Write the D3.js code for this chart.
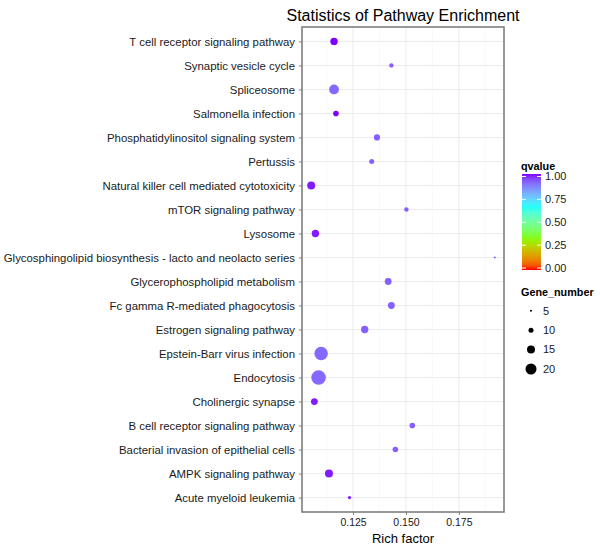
<!DOCTYPE html>
<html>
<head>
<meta charset="utf-8">
<script src="https://cdn.jsdelivr.net/npm/d3@7"></script>
<style>
  body { margin: 0; background: #fff; }
  text { font-family: "Liberation Sans", Arial, Helvetica, sans-serif; }
</style>
</head>
<body>
<script>
const pathways = [
    'T cell receptor signaling pathway',
    'Synaptic vesicle cycle',
    'Spliceosome',
    'Salmonella infection',
    'Phosphatidylinositol signaling system',
    'Pertussis',
    'Natural killer cell mediated cytotoxicity',
    'mTOR signaling pathway',
    'Lysosome',
    'Glycosphingolipid biosynthesis - lacto and neolacto series',
    'Glycerophospholipid metabolism',
    'Fc gamma R-mediated phagocytosis',
    'Estrogen signaling pathway',
    'Epstein-Barr virus infection',
    'Endocytosis',
    'Cholinergic synapse',
    'B cell receptor signaling pathway',
    'Bacterial invasion of epithelial cells',
    'AMPK signaling pathway',
    'Acute myeloid leukemia'
];
const richFactor = [0.1160, 0.1431, 0.1160, 0.1169, 0.1363, 0.1338, 0.1052, 0.1502, 0.1072, 0.1920,
                    0.1416, 0.1431, 0.1305, 0.1099, 0.1087, 0.1067, 0.1530, 0.1450, 0.1136, 0.1233];
const geneNumber = [14, 9, 18, 11, 12, 10, 15, 9, 14, 5,
                    13, 13, 14, 24, 26, 13, 11, 11, 15, 7];
const qvalue = [1.00, 0.92, 0.91, 1.00, 0.92, 0.92, 0.99, 0.92, 0.99, 0.92,
                0.92, 0.92, 0.92, 0.91, 0.91, 0.99, 0.92, 0.92, 0.99, 0.99];

const xTicks = [0.125, 0.150, 0.175];
const qTicks = [0, 0.25, 0.5, 0.75, 1];
const sizeTicks = [5, 10, 15, 20];

window.onload = function() {
    const width = 600, height = 550;
    const left = 302, right = 504, top = 27, bottom = 512;

    const svg = d3.select('body').append('svg')
        .attr('width', width)
        .attr('height', height);

    // x scale with 5% expansion like ggplot
    const ext = d3.extent(richFactor);
    const pad = (ext[1] - ext[0]) * 0.05;
    const xScale = d3.scaleLinear()
        .domain([ext[0] - pad, ext[1] + pad])
        .range([left, right]);

    const yScale = d3.scalePoint()
        .domain(pathways)
        .range([top, bottom])
        .padding(0.6);

    const colourScale = d3.scaleLinear()
        .domain([0, 1 / 3, 2 / 3, 1])
        .range(['#FF0000', '#80FF00', '#00FFFF', '#8000FF'])
        .interpolate(d3.interpolateLab);

    const rScale = d3.scaleLinear()
        .domain([5, 20])
        .range([1, 5.5]);

    // panel
    svg.append('rect')
        .attr('x', left).attr('y', top)
        .attr('width', right - left).attr('height', bottom - top)
        .attr('fill', '#fff');

    // minor grid
    const minor = d3.range(0.1125, 0.2, 0.025).filter(v => xScale(v) > left && xScale(v) < right);
    svg.append('g').selectAll('line')
        .data(minor).enter().append('line')
        .attr('x1', d => xScale(d)).attr('x2', d => xScale(d))
        .attr('y1', top).attr('y2', bottom)
        .attr('stroke', '#f5f5f5').attr('stroke-width', 0.6);

    // major grid
    svg.append('g').selectAll('line')
        .data(xTicks).enter().append('line')
        .attr('x1', d => xScale(d)).attr('x2', d => xScale(d))
        .attr('y1', top).attr('y2', bottom)
        .attr('stroke', '#ebebeb').attr('stroke-width', 1);

    svg.append('g').selectAll('line')
        .data(pathways).enter().append('line')
        .attr('x1', left).attr('x2', right)
        .attr('y1', d => yScale(d)).attr('y2', d => yScale(d))
        .attr('stroke', '#ebebeb').attr('stroke-width', 1);

    // points
    const idx = d3.range(pathways.length);
    svg.append('g').selectAll('circle')
        .data(idx).enter().append('circle')
        .attr('cx', i => xScale(richFactor[i]))
        .attr('cy', i => yScale(pathways[i]))
        .attr('r', i => rScale(geneNumber[i]))
        .attr('fill', i => colourScale(qvalue[i]));

    // border
    svg.append('rect')
        .attr('x', left).attr('y', top)
        .attr('width', right - left).attr('height', bottom - top)
        .attr('fill', 'none')
        .attr('stroke', '#7f7f7f').attr('stroke-width', 1.6);

    // axes
    const yAxis = svg.append('g')
        .attr('transform', `translate(${left}, 0)`)
        .call(d3.axisLeft(yScale).tickSize(3).tickPadding(4));
    const xAxis = svg.append('g')
        .attr('transform', `translate(0, ${bottom})`)
        .call(d3.axisBottom(xScale).tickValues(xTicks).tickFormat(d3.format('.3f')).tickSize(3).tickPadding(4));
    [yAxis, xAxis].forEach(a => {
        a.select('.domain').remove();
        a.selectAll('.tick line').attr('stroke', '#7f7f7f');
        a.selectAll('.tick text')
            .attr('fill', '#1a1a1a')
            .style('font-family', '"Liberation Sans", Arial, sans-serif')
            .style('font-size', '10.5px');
    });
    yAxis.selectAll('.tick text').style('font-size', '11.4px');

    // title
    svg.append('text')
        .attr('x', (left + right) / 2)
        .attr('y', 21)
        .attr('text-anchor', 'middle')
        .style('font-size', '16px')
        .text('Statistics of Pathway Enrichment');

    // x label
    svg.append('text')
        .attr('x', (left + right) / 2)
        .attr('y', 543)
        .attr('text-anchor', 'middle')
        .style('font-size', '13px')
        .text('Rich factor');

    // colour legend
    const barX = 522, barW = 19, barTop = 174, barBottom = 270;
    const qScale = d3.scaleLinear().domain([0, 1]).range([barBottom - 2, barTop + 2.5]);
    const defs = svg.append('defs');
    const grad = defs.append('linearGradient')
        .attr('id', 'qgrad')
        .attr('x1', 0).attr('y1', 1).attr('x2', 0).attr('y2', 0);
    grad.selectAll('stop')
        .data(d3.range(0, 1.001, 0.05)).enter().append('stop')
        .attr('offset', d => d)
        .attr('stop-color', d => colourScale(d));

    svg.append('text')
        .attr('x', barX - 1).attr('y', 170)
        .style('font-size', '10.8px').style('font-weight', 'bold')
        .text('qvalue');

    svg.append('rect')
        .attr('x', barX).attr('y', barTop)
        .attr('width', barW).attr('height', barBottom - barTop)
        .attr('fill', 'url(#qgrad)');

    const qLeg = svg.append('g');
    qLeg.selectAll('line.l')
        .data(qTicks).enter().append('line')
        .attr('x1', barX).attr('x2', barX + 4)
        .attr('y1', d => qScale(d)).attr('y2', d => qScale(d))
        .attr('stroke', '#fff');
    qLeg.selectAll('line.r')
        .data(qTicks).enter().append('line')
        .attr('x1', barX + barW - 4).attr('x2', barX + barW)
        .attr('y1', d => qScale(d)).attr('y2', d => qScale(d))
        .attr('stroke', '#fff');
    qLeg.selectAll('text')
        .data(qTicks).enter().append('text')
        .attr('x', barX + barW + 4)
        .attr('y', d => qScale(d))
        .attr('dy', '0.35em')
        .style('font-size', '11px')
        .attr('fill', '#1a1a1a')
        .text(d => d3.format('.2f')(d));

    // size legend
    svg.append('text')
        .attr('x', barX - 1).attr('y', 296)
        .style('font-size', '10.8px').style('font-weight', 'bold')
        .text('Gene_number');

    const sizeY = d3.scalePoint().domain(sizeTicks).range([310.7, 369]);
    const sLeg = svg.append('g');
    sLeg.selectAll('circle')
        .data(sizeTicks).enter().append('circle')
        .attr('cx', 531)
        .attr('cy', d => sizeY(d))
        .attr('r', d => rScale(d))
        .attr('fill', '#000');
    sLeg.selectAll('text')
        .data(sizeTicks).enter().append('text')
        .attr('x', 543)
        .attr('y', d => sizeY(d))
        .attr('dy', '0.35em')
        .style('font-size', '11px')
        .attr('fill', '#1a1a1a')
        .text(d => d);
};
</script>
</body>
</html>
